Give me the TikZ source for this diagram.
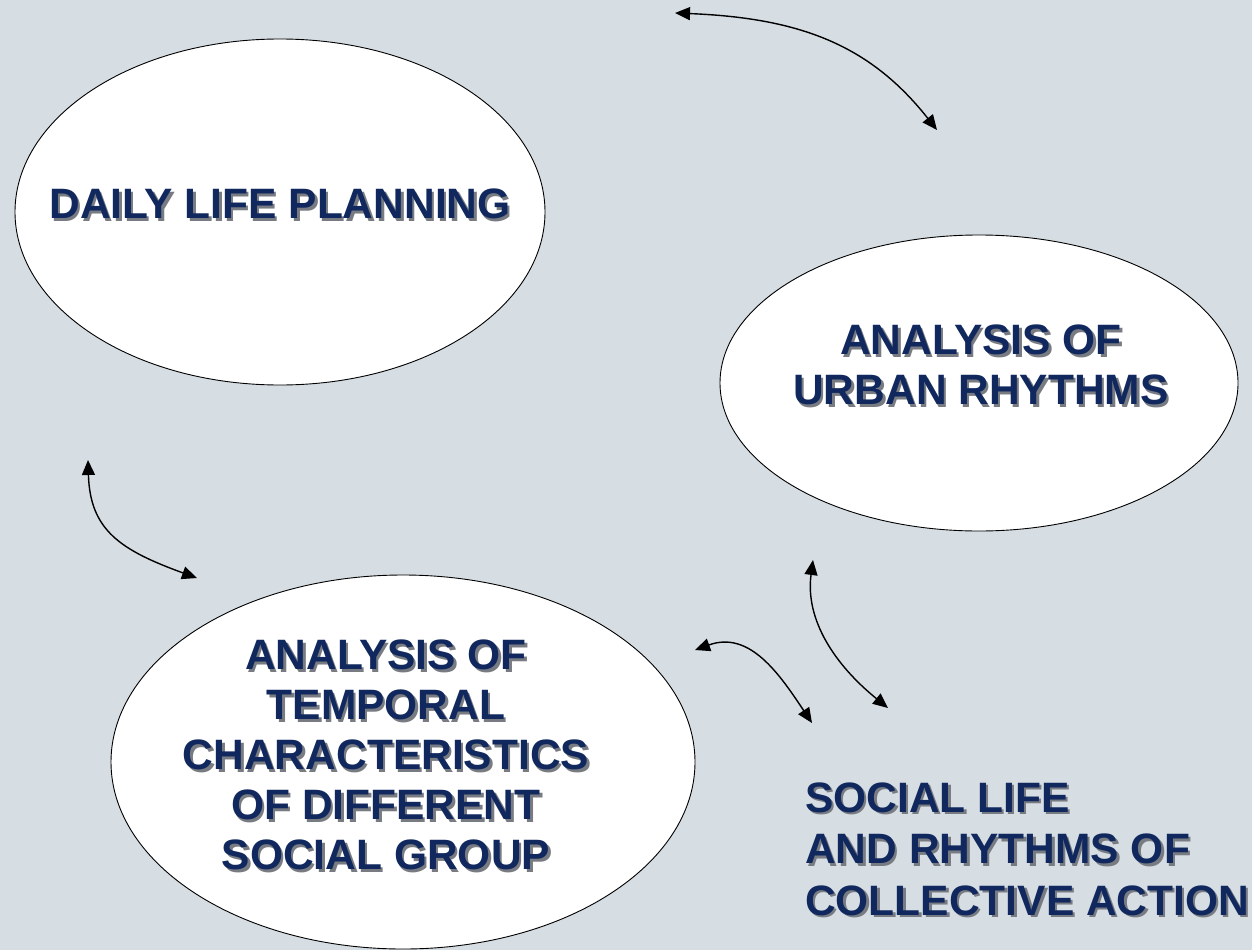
\documentclass[tikz,border=0pt]{standalone}
\usepackage{fontspec}
\setmainfont{Liberation Sans}
\usepackage{xcolor}
\usetikzlibrary{shapes.geometric, arrows.meta}

\definecolor{slidebg}{RGB}{214,222,228}
\definecolor{navy}{RGB}{16,40,94}
\definecolor{shade}{RGB}{120,124,130}

\tikzset{
    bubble/.style={ellipse, draw=black, line width=0.9pt, fill=white, inner sep=0pt},
    heading/.style={font=\bfseries\fontsize{42.5}{50}\selectfont, text=navy, inner sep=0pt},
    heading shadow/.style={heading, text=shade, xshift=2.4pt, yshift=-2.4pt},
    link/.style={line width=1.4pt, {Triangle[length=15pt, width=13pt]}-{Triangle[length=15pt, width=13pt]}}
}

% text with a grey drop shadow
\newcommand{\shadowlabel}[4]{%
    \node[heading shadow, #2] (#1-s) at #3 {#4};
    \node[heading, #2] (#1) at #3 {#4};
}

\begin{document}
\begin{tikzpicture}[x=1pt, y=-1pt]
            \fill[slidebg] (0, 0) rectangle (1252, 950);
            \useasboundingbox (0, 0) rectangle (1252, 950);

            \node[bubble, minimum width=530pt, minimum height=346pt] (daily) at (280, 212) {};
            \node[bubble, minimum width=518pt, minimum height=296pt] (urban) at (979, 383) {};
            \node[bubble, minimum width=584pt, minimum height=374pt] (temporal) at (403, 762) {};

            \shadowlabel{daily-t}{}{(280, 204)}{DAILY LIFE PLANNING}
            \shadowlabel{urban-t}{align=center}{(981, 365)}{ANALYSIS OF\\URBAN RHYTHMS}
            \shadowlabel{temporal-t}{align=center}{(386, 755)}{ANALYSIS OF\\TEMPORAL\\CHARACTERISTICS\\OF DIFFERENT\\SOCIAL GROUP}
            \shadowlabel{social-t}{align=left, anchor=west, font=\bfseries\fontsize{42.5}{51.5}\selectfont}{(805, 849)}{SOCIAL LIFE\\AND RHYTHMS OF\\COLLECTIVE ACTION}

            \coordinate (a1) at (675, 13);
            \coordinate (b1) at (937, 130);
            \coordinate (a2) at (88, 460);
            \coordinate (b2) at (197, 578);
            \coordinate (a3) at (695, 650);
            \coordinate (b3) at (812, 723);
            \coordinate (a4) at (813, 560);
            \coordinate (b4) at (888, 708);

            \draw[link] (a1) .. controls (800, 18) and (870, 45) .. (b1);
            \draw[link] (a2) .. controls (90, 530) and (120, 550) .. (b2);
            \draw[link] (a3) .. controls (750, 630) and (780, 675) .. (b3);
            \draw[link] (a4) .. controls (805, 620) and (835, 665) .. (b4);
        \end{tikzpicture}
\end{document}
